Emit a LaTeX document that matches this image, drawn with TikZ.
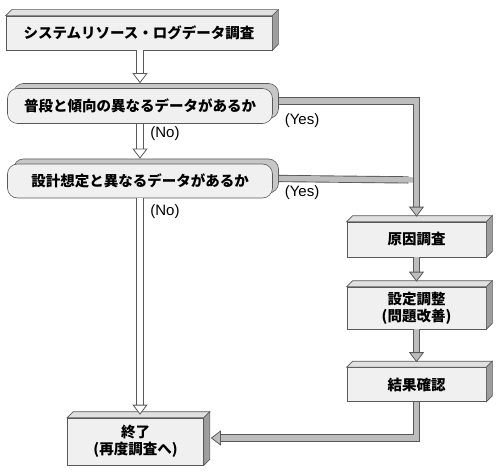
\documentclass[tikz,border=0pt]{standalone}
\usepackage{fontspec}
\setsansfont{Liberation Sans}
\newfontfamily\jpfont{Noto Sans CJK JP}
\usetikzlibrary{positioning, arrows.meta, shadows}
\definecolor{edgegray}{gray}{0.35}
\definecolor{frontgray}{gray}{0.94}
\definecolor{topgray}{gray}{0.88}
\definecolor{sidegray}{gray}{0.62}
\definecolor{pipegray}{gray}{0.74}
\definecolor{backgray}{gray}{0.78}
\tikzset{
    every node/.style={font=\jpfont\bfseries\fontsize{14.5}{17}\selectfont, align=center, inner sep=0pt},
    block/.style={draw=edgegray, fill=frontgray, line width=0.6pt}, % front face of a box
    decision/.style={block, rounded corners=10pt,
        copy shadow={shadow xshift=6pt, shadow yshift=5pt, fill=backgray, draw=edgegray}},
    topface/.style={draw=edgegray, fill=topgray, line width=0.6pt},
    sideface/.style={draw=edgegray, fill=sidegray, line width=0.6pt},
    pipe/.style={line width=5.4pt, draw=#1, preaction={draw=edgegray, line width=7.2pt, arrows=-, shorten >=8pt}}, % a fat line with an outline
    hollow/.style={pipe=white,
        -{Triangle[color=edgegray, fill=white, line width=0.8pt, length=10pt, width=15pt]}}, % white pipe
    filled/.style={pipe=pipegray,
        -{Triangle[color=edgegray, fill=pipegray, line width=0.8pt, length=10pt, width=15pt]}}, % gray pipe
    answer/.style={font=\sffamily\fontsize{15}{17}\selectfont},
}

\begin{document}
\begin{tikzpicture}[x=1pt, y=-1pt]
    \useasboundingbox (0,0) rectangle (500,473);

    % left column
    \node[block, minimum width=266pt, minimum height=34pt] (survey) at (139,33) {システムリソース・ログデータ調査};
    \node[decision, minimum width=265pt, minimum height=35pt] (trend) at (140,106) {普段と傾向の異なるデータがあるか};
    \node[decision, minimum width=265pt, minimum height=34pt] (design) at (140,181) {設計想定と異なるデータがあるか};
    \node[block, minimum width=136pt, minimum height=47pt] (finish) at (135.5,441.5) {終了\\(再度調査へ)};

    % right column
    \node[block, minimum width=139pt, minimum height=35pt] (cause) at (416.5,239.5) {原因調査};
    \node[block, minimum width=139pt, minimum height=42pt] (tune) at (416.5,308) {設定調整\\(問題改善)};
    \node[block, minimum width=139pt, minimum height=34pt] (check) at (416.5,384.5) {結果確認};

    % top and side faces of the boxes
    \foreach \n in {survey, finish, cause, tune, check} {
        \draw[topface] (\n.north west) -- ++(6pt,6pt) -- ([shift={(6pt,6pt)}]\n.north east) -- (\n.north east) -- cycle;
        \draw[sideface] (\n.north east) -- ++(6pt,6pt) -- ([shift={(6pt,6pt)}]\n.south east) -- (\n.south east) -- cycle;
    }

    % answers
    \coordinate (join) at (416.5,180);
    \draw[pipe=pipegray] ([shift={(6pt,2.5pt)}]design.east) -- (join);
    \draw[filled] ([shift={(6pt,5pt)}]trend.east) -| ([yshift=5pt]cause.north);
    \node[answer] (yes1) at (302,121) {(Yes)};
    \node[answer] (yes2) at (302,193) {(Yes)};

    \draw[hollow] (survey.south -| trend) -- ([yshift=5pt]trend.north);
    \draw[hollow] (trend.south) -- ([yshift=5pt]design.north);
    \draw[hollow] (design.south) -- ([yshift=3pt]design.south |- finish.north);
    \node[answer] (no1) at (165,134) {(No)};
    \node[answer] (no2) at (165,212) {(No)};

    \draw[filled] (cause.south) -- ([yshift=5pt]tune.north);
    \draw[filled] (tune.south) -- ([yshift=5pt]check.north);
    \draw[filled] (check.south) |- ([shift={(7pt,3.5pt)}]finish.east);
\end{tikzpicture}
\end{document}
